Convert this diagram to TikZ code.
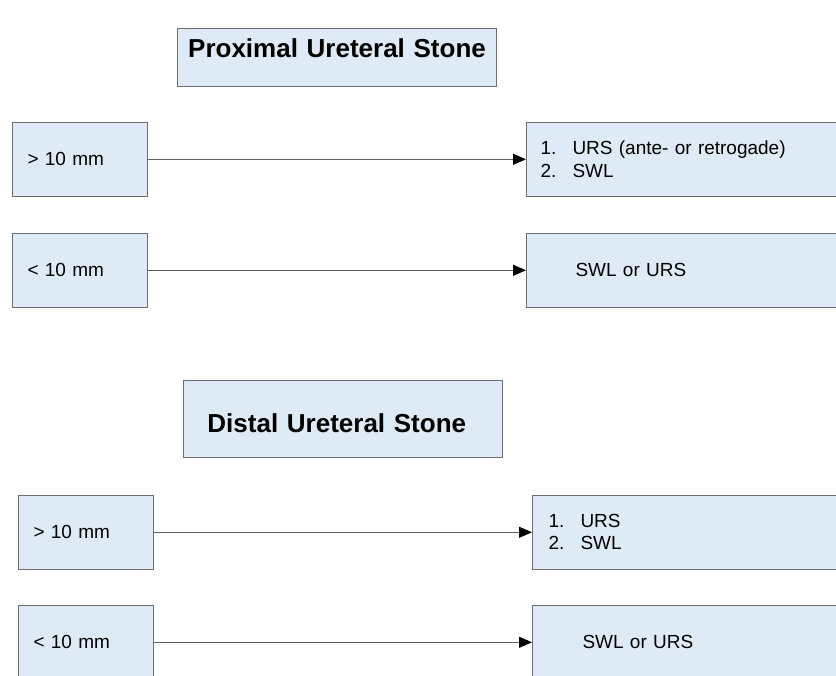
\documentclass[tikz,border=0pt]{standalone}
\usepackage{fontspec}
\setmainfont{Liberation Sans}
\usepackage{xcolor}
\usepackage{tikz}
\definecolor{BoxBlue}{RGB}{222,234,245}
\definecolor{BoxEdge}{RGB}{110,110,110}
\definecolor{LineGray}{RGB}{95,95,95}
\usetikzlibrary{arrows.meta,positioning}
\newcommand{\itm}[2]{\makebox[0.64cm][l]{#1}#2}

\begin{document}
\begin{tikzpicture}[>={Triangle[length=2.6mm,width=2.2mm,color=black]},
    box/.style={draw=BoxEdge, fill=BoxBlue, line width=0.6pt, anchor=north west,
        font=\fontsize{10.8}{12.6}\selectfont, align=left, inner ysep=0pt},
    head/.style={box, font=\fontsize{14.8}{17}\bfseries\selectfont, align=center,
        text width=6.38cm, inner xsep=0pt},
    link/.style={->, draw=LineGray, line width=0.6pt}]
        % picture frame
        \useasboundingbox (0,0) rectangle (16.72,-13.5);
        \clip (0,0) rectangle (16.72,-13.5);

        % Draw the two headings
        \node[head, text height=0.57cm, text depth=0.59cm] (prox) at (3.54,-0.56) {Proximal Ureteral Stone};
        \node[head, text height=1.03cm, text depth=0.51cm] (dist) at (3.66,-7.6) {\hspace*{-0.25cm}Distal Ureteral Stone};

        % Draw the size boxes and the treatment boxes
        \foreach \y/\xl/\xr/\ins/\size/\treat[count=\c] in {
            -2.44/0.24/10.52/0.28/{> 10 mm}/{\itm{1.}{URS (ante- or retrogade)}\\\itm{2.}{SWL}},
            -4.66/0.24/10.52/0.98/{< 10 mm}/{SWL or URS},
            -9.9/0.36/10.64/0.32/{> 10 mm}/{\itm{1.}{URS}\\\itm{2.}{SWL}},
            -12.1/0.36/10.64/1.0/{< 10 mm}/{SWL or URS}}{
            \node[box, text width=2.1cm, inner xsep=0.3cm, minimum height=1.47cm] (size\c) at (\xl,\y) {\size};
            \node[box, text width=6cm, inner xsep=\ins cm, minimum height=1.47cm] (treat\c) at (\xr,\y) {\treat};
        }

        % Draw the arrows
        \foreach \i in {1,...,4}{
            \draw[link] (size\i.east) -- (treat\i.west);
        }
\end{tikzpicture}
\end{document}
